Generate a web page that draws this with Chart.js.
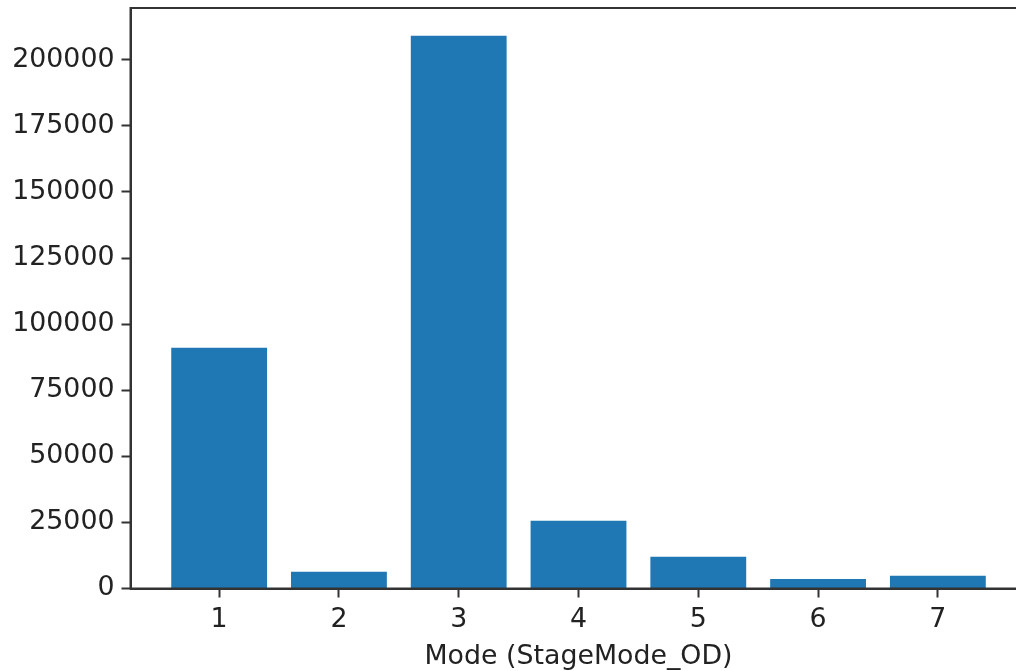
<!DOCTYPE html>
<html>
<head>
<meta charset="utf-8">
<script src="https://cdn.jsdelivr.net/npm/chart.js@4/dist/chart.umd.min.js"></script>
<style>
  html, body { margin: 0; padding: 0; background: #fff; overflow: hidden; }
  #wrap { position: absolute; left: 0; top: 0; width: 1040px; height: 671px; }
</style>
</head>
<body>
<div id="wrap"><canvas id="c" width="1040" height="671"></canvas></div>
<script>
// Trip counts per stage mode
const modes = [1, 2, 3, 4, 5, 6, 7];
const counts = [91100, 6300, 209100, 25600, 12000, 3600, 4800];
const yTicks = [0, 25000, 50000, 75000, 100000, 125000, 150000, 175000, 200000];
const xLabel = 'Mode (StageMode_OD)';

const INK = '#222222';
const SPINE = '#333333';
const FONT = { family: '"DejaVu Sans", sans-serif', size: 26.8 };

// x limits: bars span ±0.4 around each mode plus a 5% margin
const span = (modes[modes.length - 1] + 0.4) - (modes[0] - 0.4);
const xMin = modes[0] - 0.4 - 0.05 * span;
const xMax = modes[modes.length - 1] + 0.4 + 0.05 * span;
const yMax = Math.max(...counts) * 1.05;

// closed frame around the plot area (top and right spines)
const frame = {
  id: 'frame',
  afterDraw(chart) {
    const { ctx, chartArea: a } = chart;
    ctx.save();
    ctx.strokeStyle = SPINE;
    ctx.lineWidth = 2;
    ctx.strokeRect(a.left, a.top, a.right - a.left, a.bottom - a.top);
    ctx.restore();
  }
};

new Chart(document.getElementById('c'), {
  type: 'bar',
  data: {
    datasets: [{
      data: modes.map((m, i) => ({ x: m, y: counts[i] })),
      backgroundColor: '#1f77b4',
      borderWidth: 0,
      barPercentage: 0.8,
      categoryPercentage: 1.0
    }]
  },
  plugins: [frame],
  options: {
    responsive: false,
    animation: false,
    devicePixelRatio: 1,
    layout: { padding: { top: 8, right: 13.5, bottom: 0, left: 0 } },
    plugins: { legend: { display: false }, tooltip: { enabled: false } },
    scales: {
      x: {
        type: 'linear',
        offset: false,
        min: xMin,
        max: xMax,
        afterBuildTicks: s => { s.ticks = modes.map(v => ({ value: v })); },
        afterFit: s => { s.height = 82.5; s.paddingLeft = 0; s.paddingRight = 0; },
        grid: { offset: false, drawOnChartArea: false, tickLength: 9, tickWidth: 2, tickColor: SPINE },
        border: { color: SPINE, width: 2 },
        ticks: { color: INK, font: FONT, padding: 6, maxRotation: 0 },
        title: { display: true, text: xLabel, color: INK, font: FONT, padding: { top: 0, bottom: -2 } }
      },
      y: {
        type: 'linear',
        min: 0,
        max: yMax,
        afterBuildTicks: s => { s.ticks = yTicks.map(v => ({ value: v })); },
        afterFit: s => { s.width = 130.5; s.paddingTop = 0; s.paddingBottom = 0; },
        grid: { drawOnChartArea: false, tickLength: 9, tickWidth: 2, tickColor: SPINE },
        border: { color: SPINE, width: 2 },
        ticks: { color: INK, font: FONT, padding: 7, callback: v => String(v) }
      }
    }
  }
});
</script>
</body>
</html>
